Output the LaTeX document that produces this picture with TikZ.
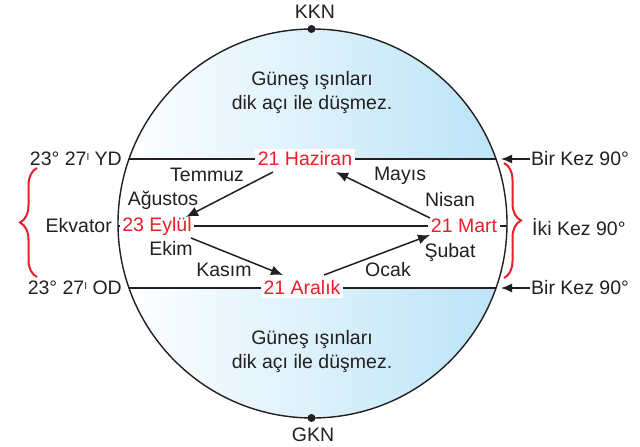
\documentclass[tikz,border=0pt]{standalone}
\usepackage{fontspec}
\setmainfont{Liberation Sans}
\usetikzlibrary{decorations.pathreplacing,arrows.meta,calc}
\definecolor{myred}{RGB}{232,30,40}
\definecolor{capblue}{RGB}{186,227,247}
\definecolor{txt}{RGB}{35,31,32}
\newcommand{\mypr}{\raisebox{0.55ex}{\fontsize{10}{10}\selectfont I}}
\begin{document}
\begin{tikzpicture}[x=1pt,y=-1pt,
  font=\fontsize{19.5}{22}\selectfont,
  lbl/.style={text=txt, inner sep=1pt},
  datebox/.style={text=myred, fill=white, inner sep=2.5pt},
  arr/.style={-{Latex[length=12pt,width=10pt]}, line width=1.5pt, draw=txt},
  sidearr/.style={-{Latex[length=11pt,width=9pt]}, line width=1.5pt, draw=txt},
  parallel/.style={line width=1.5pt, draw=txt},
  redbrace/.style={decorate, decoration={brace, amplitude=17pt}, draw=myred, line width=2pt},
  pole/.style={circle, fill=txt, inner sep=0pt, minimum size=8pt}]
\useasboundingbox (0,0) rectangle (640,447);
\coordinate (O) at (312.5,223.5);
% caps
\begin{scope}
  \clip (O) circle (194.5);
  \shade[left color=white, right color=capblue] (118,20) rectangle (507,159);
  \shade[left color=white, right color=capblue] (118,288) rectangle (507,425);
\end{scope}
% parallels
\coordinate (ydL) at (129,159); \coordinate (ydR) at (496,159);
\coordinate (eqL) at (118,226); \coordinate (eqR) at (507,226);
\coordinate (odL) at (129,288); \coordinate (odR) at (496,288);
\draw[parallel] (ydL) -- (ydR);
\draw[parallel] (eqL) -- (eqR);
\draw[parallel] (odL) -- (odR);
% circle
\draw[line width=1.4pt, txt] (O) circle (194.5);
\node[pole] (kknp) at (311.5,29) {};
\node[pole] (gknp) at (311.5,418) {};
\node[lbl] (kkn) at (315,12) {KKN};
\node[lbl] (gkn) at (313,435) {GKN};
% cap texts
\node[lbl, align=center] (topcap) at (312,92) {Güneş ışınları\\[2pt]dik açı ile düşmez.};
\node[lbl, align=center] (botcap) at (312,351) {Güneş ışınları\\[2pt]dik açı ile düşmez.};
% dates
\node[datebox] (haz) at (305,159) {21 Haziran};
\node[datebox] (eyl) at (157,226) {23 Eylül};
\node[datebox] (ara) at (302,288) {21 Aralık};
\node[datebox] (mar) at (464,226) {21 Mart};
% months
\node[lbl] (temmuz) at (207,175) {Temmuz};
\node[lbl] (agustos) at (163,200) {Ağustos};
\node[lbl] (ekim) at (171,248) {Ekim};
\node[lbl] (kasim) at (224,270) {Kasım};
\node[lbl] (ocak) at (388,270) {Ocak};
\node[lbl] (subat) at (450,252) {Şubat};
\node[lbl] (nisan) at (450,200) {Nisan};
\node[lbl] (mayis) at (400,176) {Mayıs};
% arrows
\draw[arr] ($(haz)+(-32,13)$) -- ($(eyl)+(29,-9)$);
\draw[arr] ($(eyl)+(34,12)$) -- ($(ara)+(-19,-13)$);
\draw[arr] ($(ara)+(22,-13)$) -- ($(mar)+(-34,9)$);
\draw[arr] ($(mar)+(-34,-8)$) -- ($(haz)+(31,13)$);
% left labels
\node[lbl, anchor=east] (ydtxt) at (123,159) {23° 27\mypr\ YD};
\node[lbl, anchor=east] (ekv) at (113,226) {Ekvator};
\node[lbl, anchor=east] (odtxt) at (123,288) {23° 27\mypr\ OD};
% right labels
\node[lbl, anchor=west] (bir1) at (530,159) {Bir Kez 90°};
\node[lbl, anchor=west] (iki) at (531,227) {İki Kez 90°};
\node[lbl, anchor=west] (bir2) at (530,288) {Bir Kez 90°};
\draw[sidearr] (bir1.west) -- (ydR -| 501,0);
\draw[sidearr] (bir2.west) -- (odR -| 501,0);
% braces
\draw[redbrace] (37,277) -- (37,168);
\draw[redbrace] (504,163) -- (504,278);
\end{tikzpicture}
\end{document}
